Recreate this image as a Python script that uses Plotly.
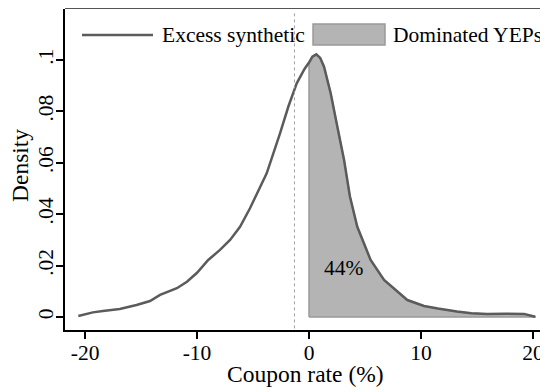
import plotly.graph_objects as go

# ---- data ----
coupon_rate = [-20.6, -19.3, -18.4, -16.9, -15.4, -14.2, -13.3, -11.8, -10.9, -10.0,
               -9.0, -7.95, -7.05, -6.16, -5.27, -3.78, -2.59, -1.85, -1.1, -0.4,
               0.0, 0.3, 0.65, 1.0, 1.34, 1.94, 2.53, 3.13, 3.65, 4.31,
               5.5, 6.7, 8.78, 10.27, 11.5, 13.2, 14.5, 15.9, 17.5, 19.2, 20.2]
density = [0.0004, 0.0018, 0.0023, 0.0031, 0.0047, 0.0062, 0.0086, 0.0112, 0.0137, 0.0172,
           0.0222, 0.0261, 0.0300, 0.0351, 0.0423, 0.0559, 0.0714, 0.0818, 0.0909, 0.0965,
           0.0990, 0.1013, 0.1022, 0.1008, 0.0974, 0.0870, 0.0740, 0.0611, 0.0470, 0.0351,
           0.0222, 0.0144, 0.0066, 0.0043, 0.0033, 0.0021, 0.0015, 0.0012, 0.0013, 0.0012, 0.0001]
ref_line_x = -1.3
share_label = "44%"
share_pos = (3.1, 0.019)
x_ticks = [-20, -10, 0, 10, 20]
x_ticktext = ["-20", "-10", "0", "10", "20"]
y_ticks = [0, 0.02, 0.04, 0.06, 0.08, 0.1]
y_ticktext = ["0", ".02", ".04", ".06", ".08", ".1"]
series_names = ["Excess synthetic", "Dominated YEPs"]

FONT = "Liberation Serif, Times New Roman, serif"
FS = 21.5
FS_TITLE = 23.5
LINE_COL = "#5b5b5b"
FILL_COL = "#b4b4b4"
FILL_EDGE = "#999999"

# dominated region: x >= 0 closed polygon down to the baseline
ax = [x for x in coupon_rate if x >= 0]
ay = [y for x, y in zip(coupon_rate, density) if x >= 0]
area_x = [ax[0]] + ax + [ax[-1], ax[0]]
area_y = [0] + ay + [0, 0]

fig = go.Figure()
fig.add_trace(go.Scatter(x=area_x, y=area_y, mode="lines", fill="toself",
                         fillcolor=FILL_COL, line=dict(color=FILL_EDGE, width=1.5),
                         name=series_names[1], showlegend=False))
fig.add_trace(go.Scatter(x=coupon_rate, y=density, mode="lines",
                         line=dict(color=LINE_COL, width=2.5), name=series_names[0],
                         showlegend=False))

# reference line
fig.add_shape(type="line", xref="x", yref="paper", x0=ref_line_x, x1=ref_line_x,
              y0=0.005, y1=0.995, line=dict(color="#a0a0a0", width=1, dash="dot"))
# top border
fig.add_shape(type="line", xref="paper", yref="paper", x0=0, x1=1, y0=1.003, y1=1.003,
              line=dict(color="#555555", width=2))

# manual legend
LEG_Y = 0.919
fig.add_shape(type="line", xref="paper", yref="paper", x0=0.0352, x1=0.1822,
              y0=LEG_Y, y1=LEG_Y, line=dict(color=LINE_COL, width=2.5))
fig.add_annotation(xref="paper", yref="paper", x=0.1967, y=LEG_Y, text=series_names[0],
                   showarrow=False, xanchor="left", yanchor="middle",
                   font=dict(family=FONT, size=FS, color="black"))
fig.add_shape(type="rect", xref="paper", yref="paper", x0=0.5135, x1=0.6625,
              y0=0.888, y1=0.953, fillcolor=FILL_COL, line=dict(color=FILL_EDGE, width=1.5))
fig.add_annotation(xref="paper", yref="paper", x=0.675, y=LEG_Y, text=series_names[1],
                   showarrow=False, xanchor="left", yanchor="middle",
                   font=dict(family=FONT, size=FS, color="black"))

fig.add_annotation(x=share_pos[0], y=share_pos[1], text=share_label, showarrow=False,
                   font=dict(family=FONT, size=FS, color="black"))

# axis titles
fig.add_annotation(xref="paper", yref="paper", x=0.497, y=-0.137, text="Coupon rate (%)",
                   showarrow=False, xanchor="center", yanchor="middle",
                   font=dict(family=FONT, size=FS_TITLE, color="black"))
fig.add_annotation(xref="paper", yref="paper", x=-0.0932, y=0.514, text="Density",
                   showarrow=False, xanchor="center", yanchor="middle", textangle=-90,
                   font=dict(family=FONT, size=FS_TITLE, color="black"))

axis_common = dict(showline=True, linecolor="black", linewidth=2, ticks="outside",
                   ticklen=7, tickwidth=1.5, tickcolor="black", showgrid=False,
                   zeroline=False, automargin=False,
                   tickfont=dict(family=FONT, size=FS, color="black"))
fig.update_xaxes(range=[-21.79, 21.34], tickvals=x_ticks, ticktext=x_ticktext,
                 ticklabelstandoff=-5, **axis_common)
fig.update_yaxes(range=[-0.00506, 0.11984], tickvals=y_ticks, ticktext=y_ticktext,
                 tickangle=-90, ticklabelstandoff=-6, **axis_common)

# the page body adds an 8px offset; margins compensate so the plot lands where the reference has it
fig.update_layout(width=548, height=392, margin=dict(l=57, r=8, t=1, b=70),
                  plot_bgcolor="white", paper_bgcolor="white", showlegend=False,
                  font=dict(family=FONT, size=FS, color="black"))

fig.write_html("out.html")
